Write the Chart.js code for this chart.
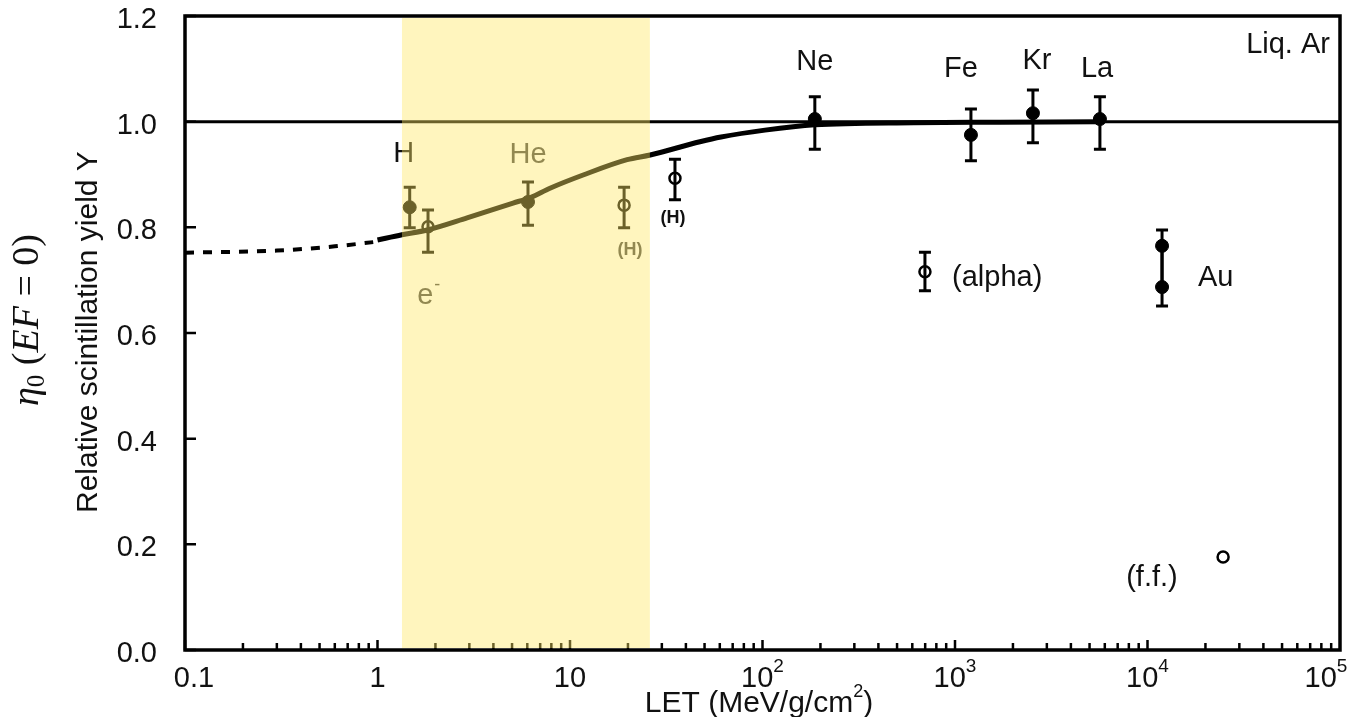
<!DOCTYPE html>
<html>
<head>
<meta charset="utf-8">
<script src="https://cdn.jsdelivr.net/npm/chart.js@4.4.0/dist/chart.umd.min.js"></script>
<style>
  html, body { margin: 0; padding: 0; background: #fff; }
</style>
</head>
<body>
<canvas id="letChart" width="1357" height="717"></canvas>
<script>
// response curve (measured range) and its low-LET extrapolation
const curveLet   = [1.0, 1.34, 1.81, 2.92, 5.06, 6.2, 7.87, 11.7, 19.8, 26.1, 47.3, 60.9, 103, 187, 612, 1710, 5600];
const curveYield = [0.776, 0.786, 0.795, 0.818, 0.846, 0.856, 0.874, 0.899, 0.928, 0.937, 0.962, 0.971, 0.984, 0.994, 0.998, 0.999, 1.0];
const extrapLet   = [0.1, 0.3, 0.6, 0.95];
const extrapYield = [0.752, 0.756, 0.764, 0.772];

// heavy ions (filled markers)
const ionNames = ['H', 'He', 'Ne', 'Fe', 'Kr', 'La', 'Au', 'Au'];
const ionLet   = [1.47, 6.05, 187, 1210, 2540, 5660, 11900, 11900];
const ionYield = [0.838, 0.848, 1.005, 0.975, 1.016, 1.005, 0.765, 0.687];
const ionLow   = [0.799, 0.804, 0.948, 0.926, 0.960, 0.948, 0.687, 0.651];
const ionHigh  = [0.876, 0.886, 1.047, 1.024, 1.060, 1.047, 0.795, 0.765];

// other measurements (open markers)
const openNames = ['e-', '(H)', '(H)', '(alpha)', '(f.f.)'];
const openLet   = [1.83, 19.1, 35.1, 698, 24700];
const openYield = [0.801, 0.842, 0.893, 0.716, 0.176];
const openLow   = [0.753, 0.799, 0.852, 0.680, null];
const openHigh  = [0.833, 0.876, 0.929, 0.753, null];

// highlighted LET window
const bandLet = [1.34, 26];

// axes
const yTicks = [0, 0.2, 0.4, 0.6, 0.8, 1.0, 1.2];
const decades = [0.1, 1, 10, 100, 1000, 10000, 100000];
const decadeBase = ['0.1', '1', '10', '10', '10', '10', '10'];
const decadeSup  = ['', '', '', '2', '3', '4', '5'];

const SANS = '"Liberation Sans", Arial, Helvetica, sans-serif';
const SERIF = '"Liberation Serif", "Times New Roman", serif';

// text annotations: [text, LET, yield, align, size, color, superscript]
const notes = [
  ['Liq. Ar', 88700, 1.13, 'right', 29, '#111'],
  ['Ne', 187, 1.098, 'center', 29, '#111'],
  ['Fe', 1075, 1.085, 'center', 29, '#111'],
  ['Kr', 2667, 1.100, 'center', 29, '#111'],
  ['La', 5470, 1.085, 'center', 29, '#111'],
  ['(alpha)', 965, 0.689, 'left', 29, '#111'],
  ['Au', 18290, 0.689, 'left', 29, '#111'],
  ['(f.f.)', 10550, 0.121, 'center', 29, '#111'],
  ['H', 1.37, 0.924, 'center', 29, '#111'],
  ['He', 6.05, 0.922, 'center', 29, '#444'],
  ['e', 1.77, 0.655, 'center', 29, '#444', '-']
];
const smallNotes = [
  ['(H)', 20.5, 0.757, '#444'],
  ['(H)', 34.3, 0.818, '#111']
];

const pts = (xs, ys) => xs.map((x, i) => ({ x: x, y: ys[i] }));

const frame = {
  id: 'frame',
  beforeDatasetsDraw(chart) {
    const { ctx, scales: { x, y } } = chart;
    ctx.save();
    ctx.strokeStyle = '#000';
    ctx.lineWidth = 3;
    const bars = (lets, lo, hi) => lets.forEach((l, i) => {
      if (lo[i] == null) return;
      const px = x.getPixelForValue(l);
      const y1 = y.getPixelForValue(lo[i]);
      const y2 = y.getPixelForValue(hi[i]);
      ctx.beginPath();
      ctx.moveTo(px, y1); ctx.lineTo(px, y2);
      ctx.moveTo(px - 6, y1); ctx.lineTo(px + 6, y1);
      ctx.moveTo(px - 6, y2); ctx.lineTo(px + 6, y2);
      ctx.stroke();
    });
    bars(ionLet, ionLow, ionHigh);
    bars(openLet, openLow, openHigh);
    ctx.restore();
  },
  afterDatasetsDraw(chart) {
    const { ctx, chartArea: a, scales: { x, y } } = chart;
    ctx.save();

    // inward tick marks
    ctx.strokeStyle = '#000';
    ctx.lineWidth = 2.5;
    ctx.beginPath();
    decades.forEach((d, k) => {
      if (k === decades.length - 1) return;
      for (let m = 1; m < 10; m++) {
        const px = x.getPixelForValue(d * m);
        ctx.moveTo(px, a.bottom);
        ctx.lineTo(px, a.bottom - (m === 1 ? 10 : 7));
      }
    });
    yTicks.forEach(v => {
      const py = y.getPixelForValue(v);
      ctx.moveTo(a.left, py);
      ctx.lineTo(a.left + 11, py);
    });
    ctx.stroke();

    // annotations
    ctx.textBaseline = 'alphabetic';
    notes.forEach(([t, lx, ly, align, size, color, sup]) => {
      ctx.font = size + 'px ' + SANS;
      ctx.fillStyle = color;
      ctx.textAlign = align;
      const px = x.getPixelForValue(lx), py = y.getPixelForValue(ly);
      ctx.fillText(t, px, py);
      if (sup) {
        const w = ctx.measureText(t).width;
        ctx.font = '18px ' + SANS;
        ctx.textAlign = 'left';
        ctx.fillText(sup, px + w / 2 + 1, py - 14);
      }
    });
    ctx.font = 'bold 18px ' + SANS;
    ctx.textAlign = 'center';
    ctx.textBaseline = 'middle';
    smallNotes.forEach(([t, lx, ly, color]) => {
      ctx.fillStyle = color;
      ctx.fillText(t, x.getPixelForValue(lx), y.getPixelForValue(ly));
    });

    // translucent yellow window over the data
    const bx1 = x.getPixelForValue(bandLet[0]);
    const bx2 = x.getPixelForValue(bandLet[1]);
    ctx.fillStyle = 'rgba(255, 232, 100, 0.42)';
    ctx.fillRect(bx1, a.top + 2, bx2 - bx1, a.bottom - a.top - 4);

    // plot frame
    ctx.lineWidth = 3.5;
    ctx.strokeStyle = '#000';
    ctx.strokeRect(a.left, a.top, a.right - a.left, a.bottom - a.top);

    // x tick labels with powers of ten
    ctx.fillStyle = '#111';
    ctx.textBaseline = 'alphabetic';
    ctx.textAlign = 'left';
    decades.forEach((d, i) => {
      ctx.font = '29px ' + SANS;
      const wb = ctx.measureText(decadeBase[i]).width;
      ctx.font = '19px ' + SANS;
      const ws = decadeSup[i] ? ctx.measureText(decadeSup[i]).width : 0;
      let cx = x.getPixelForValue(d);
      if (i === 0) cx += 9;
      if (i === decades.length - 1) cx -= 14;
      const left = cx - (wb + ws) / 2;
      ctx.font = '29px ' + SANS;
      ctx.fillText(decadeBase[i], left, 687);
      if (ws) {
        ctx.font = '19px ' + SANS;
        ctx.fillText(decadeSup[i], left + wb, 672);
      }
    });

    // x axis title
    ctx.font = '30px ' + SANS;
    const t1 = 'LET (MeV/g/cm', t2 = ')';
    const w1 = ctx.measureText(t1).width, w2 = ctx.measureText(t2).width;
    ctx.font = '18px ' + SANS;
    const ws = ctx.measureText('2').width;
    let tx = 759 - (w1 + ws + w2) / 2;
    ctx.font = '30px ' + SANS;
    ctx.fillText(t1, tx, 712);
    ctx.font = '18px ' + SANS;
    ctx.fillText('2', tx + w1, 697);
    ctx.font = '30px ' + SANS;
    ctx.fillText(t2, tx + w1 + ws, 712);

    // y axis titles (rotated, reading upwards)
    ctx.save();
    ctx.translate(97, 513);
    ctx.rotate(-Math.PI / 2);
    ctx.textAlign = 'left';
    ctx.font = '30px ' + SANS;
    ctx.fillText('Relative scintillation yield Y', 0, 0);
    ctx.restore();

    const parts = [
      ['η', 'italic 38px ' + SERIF, 0],
      ['0', '25px ' + SERIF, 6],
      [' (', '38px ' + SERIF, 0],
      ['EF', 'italic 38px ' + SERIF, 0],
      [' = ', '38px ' + SERIF, 0],
      ['0', '38px ' + SERIF, 0],
      [')', '38px ' + SERIF, 0]
    ];
    let total = 0;
    parts.forEach(p => { ctx.font = p[1]; total += ctx.measureText(p[0]).width; });
    ctx.save();
    ctx.translate(38, 320);
    ctx.rotate(-Math.PI / 2);
    ctx.textAlign = 'left';
    let cur = -total / 2;
    parts.forEach(p => {
      ctx.font = p[1];
      ctx.fillText(p[0], cur, p[2]);
      cur += ctx.measureText(p[0]).width;
    });
    ctx.restore();

    ctx.restore();
  }
};

new Chart(document.getElementById('letChart'), {
  type: 'scatter',
  data: {
    datasets: [
      {
        label: 'Y = 1',
        data: pts([0.1, 100000], [1, 1]),
        showLine: true,
        borderColor: '#000',
        borderWidth: 3,
        pointRadius: 0
      },
      {
        label: 'extrapolation',
        data: pts(extrapLet, extrapYield),
        showLine: true,
        borderColor: '#000',
        borderWidth: 4,
        borderDash: [9, 9],
        cubicInterpolationMode: 'monotone',
        pointRadius: 0
      },
      {
        label: 'curve',
        data: pts(curveLet, curveYield),
        showLine: true,
        borderColor: '#000',
        borderWidth: 5,
        cubicInterpolationMode: 'monotone',
        pointRadius: 0
      },
      {
        label: 'ions',
        data: pts(ionLet, ionYield),
        pointRadius: 6.5,
        pointBorderWidth: 1,
        backgroundColor: '#000',
        borderColor: '#000'
      },
      {
        label: 'others',
        data: pts(openLet, openYield),
        pointRadius: 5.5,
        pointBorderWidth: 2.5,
        backgroundColor: 'rgba(0,0,0,0)',
        borderColor: '#000'
      }
    ]
  },
  options: {
    responsive: false,
    animation: false,
    events: [],
    layout: { padding: { left: 0, right: 17, top: 16, bottom: 67 } },
    plugins: { legend: { display: false }, tooltip: { enabled: false } },
    scales: {
      x: {
        type: 'logarithmic',
        min: 0.1,
        max: 100000,
        display: false
      },
      y: {
        min: 0,
        max: 1.2,
        afterFit: (scale) => {
          scale.width = 185;
          scale.paddingTop = 0;
          scale.paddingBottom = 0;
        },
        afterBuildTicks: (scale) => { scale.ticks = yTicks.map(v => ({ value: v })); },
        grid: { display: false, drawTicks: false },
        border: { display: false },
        ticks: {
          padding: 28,
          labelOffset: 4,
          color: '#111',
          font: { family: SANS, size: 29 },
          callback: (v) => Number(v).toFixed(1)
        }
      }
    }
  },
  plugins: [frame]
});
</script>
</body>
</html>
